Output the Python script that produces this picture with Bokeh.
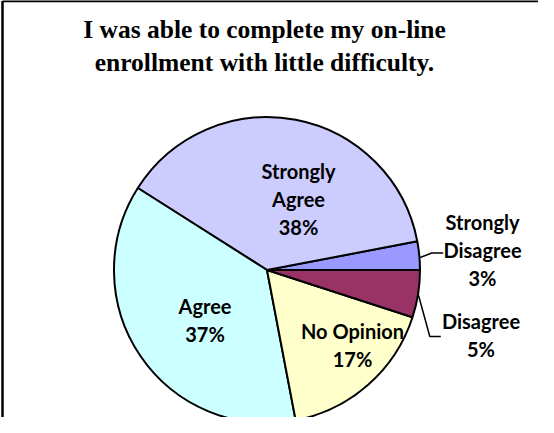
import numpy as np
from bokeh.plotting import figure
from bokeh.models import Range1d, ColumnDataSource
from bokeh.core.properties import value
from bokeh.embed import file_html
from bokeh.resources import INLINE

# ---- data ----
title_lines = ["I was able to complete my on-line", "enrollment with little difficulty."]
categories = ["Strongly Disagree", "Strongly Agree", "Agree", "No Opinion", "Disagree"]
percents = [3, 38, 37, 17, 5]
label_words = [["Strongly", "Disagree"], ["Strongly", "Agree"], ["Agree"], ["No Opinion"], ["Disagree"]]
colors = ["#9999FF", "#CCCCFF", "#CCFFFF", "#FFFFCC", "#993366"]

# ---- layout (pixel coords of the 554x433 page, y downwards) ----
W, H = 538, 417
def Y(y_img):
    return 433 - y_img

cx, cy, r = 274.5, 277.5, 153
label_anchor = [(490, 238.3), (306, 187.3), (212.5, 322), (360, 347), (488.5, 337)]
line_gap = 28
title_shift = 8.5   # rendered text sits lower than the given baseline
label_shift = 8.5

p = figure(width=W, height=H, x_range=Range1d(8, 8 + W), y_range=Range1d(Y(8 + H), Y(8)),
           output_backend="svg", toolbar_location=None, min_border=0)
p.axis.visible = False
p.grid.visible = False
p.outline_line_color = None
p.background_fill_color = "white"
p.border_fill_color = "white"

# wedges
frac = np.array(percents, dtype=float) / sum(percents)
ends = np.cumsum(frac) * 2 * np.pi
starts = np.concatenate([[0.0], ends[:-1]])
src = ColumnDataSource(dict(start=starts, end=ends, color=colors, cat=categories))
p.wedge(x=cx, y=Y(cy), radius=r, start_angle="start", end_angle="end",
        fill_color="color", line_color="black", line_width=2, source=src)

# chart border (left and top visible)
p.line([10, 10], [Y(8.5), Y(440)], line_color="black", line_width=2.5)
p.line([10, 560], [Y(8.5), Y(8.5)], line_color="black", line_width=2.5)

# leader lines
lead_xs = [[427.7, 439.3, 450.7], [426, 437.3, 448.3]]
lead_ys = [[Y(265), Y(260.5), Y(260.5)], [Y(302.7), Y(344), Y(344)]]
p.multi_line(lead_xs, lead_ys, line_color="black", line_width=1.5)

# title
for i, t in enumerate(title_lines):
    p.text(x=[272], y=[Y(45.7 + i * 32.5 - title_shift)], text=[t], text_font=value("Liberation Serif"),
           text_font_style="bold", text_font_size="25.5px", text_align="center",
           text_baseline="alphabetic", text_color="black")

# data labels
tx, ty, tt = [], [], []
for (ax, ay), words, pc in zip(label_anchor, label_words, percents):
    lines = words + [f"{pc}%"]
    for j, s in enumerate(lines):
        tx.append(ax)
        ty.append(Y(ay + j * line_gap - label_shift))
        tt.append(s)
p.text(x=tx, y=ty, text=tt, text_font=value("Lato"), text_font_style="bold",
       text_font_size="20px", text_align="center", text_baseline="alphabetic",
       text_color="black")

open("out.html", "w").write(file_html(p, INLINE))
